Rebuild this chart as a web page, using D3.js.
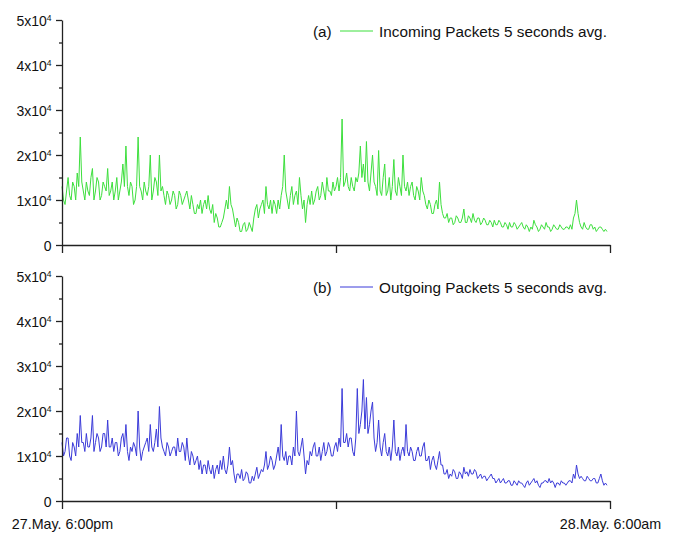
<!DOCTYPE html>
<html><head><meta charset="utf-8">
<script src="https://cdn.jsdelivr.net/npm/d3@7"></script>
<style>body{margin:0;background:#fff}svg{display:block}text{font-family:"Liberation Sans",Arial,sans-serif;fill:#111}</style>
</head><body>
<svg id="c" width="676" height="543"></svg>
<script>
// samples every 2 minutes from 27.May 6:00pm, values in thousands of packets (5 s avg)
const sampleMinutes = 2;
const incoming = [13,10,9,12,15,11,10,14,13,10,16,13,24,14,12,10,14,12,11,15,
17,10,12,15,14,10,11,14,13,12,17,11,12,14,10,12,15,10,12,14,
18,13,22,13,11,14,13,9,10,13,24,13,12,10,14,12,11,13,20,10,
12,15,14,11,20,12,13,11,9,12,11,9,10,12,11,8,9,12,11,9,
10,11,12,10,8,11,9,7,7,9,8,10,7,9,10,8,11,8,7,9,
5,7,6,4,4,5,6,8,10,8,13,9,8,6,4,6,5,3,3,4.5,
5,3,3.5,5,4,3,6,8,9,6,8,9,10,7,13,9,8,10,7,10,
9,7,10,8,11,13,20,12,10,8,11,13,9,11,12,9,15,11,8,10,
5,9,11,9,12,9,10,12,13,10,11,14,12,10,15,12,12,11,14,12,
13,15,12,15,28,13,14,16,13,12,15,13,12,15,14,16,22,15,18,14,
23,14,12,16,20,14,13,11,21,12,11,15,18,11,12,15,10,13,19,12,
11,15,13,11,20,13,12,14,11,13,14,11,10,13,12,10,15,12,11,9,
8,10,9,7,7,9,10,8,14,9,7,6,6,7,5,6,6,4.5,5,6.5,
6,5,5,6,8,5,5,6.5,6,5,7,5.5,5,6,6,4.5,5,6,5.5,4.5,
4.5,5.5,5,4,5.5,4.5,4.5,5.5,5,4,4,5,4.5,3.5,5,4,4,5,4.5,3.5,
4,4.5,5,4,3.5,4.5,4,3,4,3.5,5.5,4.5,4,3,3.5,4.5,4,3.5,5,4,
4,3,3.5,4.5,4,3.5,3.5,4.5,4,3.5,3.5,4,4,3.5,4.5,3.5,6,7,10,7,
5,4,3.5,5,4,3.5,3.5,4.5,4.5,3.5,4,3,3.5,4,4,3.5,3,3.5,3];
const outgoing = [13,10,11,14,14,10,9,13,12,10,15,12,19,13,13,11,15,12,12,14,
19,11,13,15,14,11,12,15,15,12,18,12,12,14,11,13,13,10,11,14,
15,12,17,11,9,12,11,13,12,10,20,12,9,11,12,13,14,11,17,12,
11,13,16,12,21,14,12,11,10,13,12,10,11,12,12,10,14,11,11,13,
12,9,14,10,8,11,10,8,9,10,7,9,6,8,8,6,9,7,6,8,
5,7,8,6,9,7,10,7,6,8,12,8,9,6,4,6,6,5,7,4.5,
5,6.5,6,4,4,5.5,4.5,6,7.5,5,6,7,6.5,8,11,7,8,10,9,7,
8,10,12,9,17,10,9,11,8,10,10,8,12,10,20,11,10,12,14,10,
6,9,8,11,10,12,13,10,10,12,9,11,13,10,11,13,12,10,10,12,
13,11,14,12,25,13,13,15,12,14,14,11,10,14,25,15,17,20,27,16,
23,15,17,20,22,14,11,13,18,12,10,13,15,11,10,12,9,12,18,11,
10,12,9,11,12,10,17,11,10,12,11,9,9,11,12,10,10,12,13,9,
9,10,7,9,10,8,7,9,11,8,8,6,6,7,5,6,5.5,7,6.5,5,
5,6.5,6,5,7.5,6,6.5,5.5,7,6,6,7,6.5,5,5.5,6,5,5.5,5.5,4.5,
5,5.5,6,5,5,4,4.5,5,4,4.5,5,4,4,4.5,4.5,3.5,3.5,4.5,4,3.5,
4.5,4,4,3.5,3,4,4.5,3.5,4,4.5,5,4,4.5,3.5,3,4,4,4.5,4.5,4,
5,4,4.5,4,3,4,4,3.5,4.5,4,4,3.5,4,4.5,4.5,4,6,5,8,6,
5,5.5,5,4.5,4.5,5.5,5,4.5,4.5,5,5,4,4,5,6,4.5,3.5,4,3.5];
const yTickValues = [0,10,20,30,40,50];
const yTickMantissa = ["0","1x10","2x10","3x10","4x10","5x10"];
const yMinorTicks = [5,15,25,35,45];
const xTickMinutes = [0,360,720];
const xTickLabels = ["27.May. 6:00pm","","28.May. 6:00am"];
const panels = [
  {key:"(a)", name:"Incoming Packets 5 seconds avg.", data:incoming, color:"#3ddf3d", top:20, bottom:245, labels:false},
  {key:"(b)", name:"Outgoing Packets 5 seconds avg.", data:outgoing, color:"#3b3bd9", top:276, bottom:501, labels:true}
];

const svg = d3.select("#c");
const x = d3.scaleLinear().domain([0,720]).range([62,610]);

panels.forEach(p => {
  const y = d3.scaleLinear().domain([0,50]).range([p.bottom,p.top]);
  const g = svg.append("g");
  const line = d3.line().x((d,i)=>x(i*sampleMinutes)).y(d=>y(d));
  g.append("path").datum(p.data).attr("d",line).attr("fill","none")
    .attr("stroke",p.color).attr("stroke-width",1).attr("stroke-linejoin","round");

  const ya = g.append("g").attr("transform","translate(62,0)")
    .call(d3.axisLeft(y).tickValues(yTickValues).tickSize(6).tickSizeOuter(0).tickFormat(""));
  g.append("g").attr("transform","translate(62,0)")
    .call(d3.axisLeft(y).tickValues(yMinorTicks).tickSize(3).tickSizeOuter(0).tickFormat(""))
    .select(".domain").remove();
  ya.selectAll(".tick").each(function(d,i){
    const t = d3.select(this).append("text").attr("x",-10.5).attr("y",0).attr("dy","0.36em")
      .attr("text-anchor","end").style("font-size","14px").attr("fill","#111");
    t.append("tspan").text(yTickMantissa[i]);
    if (d !== 0) t.append("tspan").attr("dy","-0.55em").style("font-size","8.5px").text("4");
  });
  const xa = g.append("g").attr("transform",`translate(0,${p.bottom})`)
    .call(d3.axisBottom(x).tickValues(xTickMinutes).tickSize(8).tickSizeOuter(0).tickFormat(""));
  if (p.labels) {
    xa.selectAll(".tick").append("text").attr("y",28).attr("text-anchor","middle")
      .style("font-size","14.3px").attr("fill","#111").text((d,i)=>xTickLabels[i]);
  }
  svg.selectAll(".domain, .tick line").attr("stroke","#222").attr("stroke-width",1.3);

  const ly = p.top + 11;
  g.append("text").attr("x",313).attr("y",ly).attr("dy","0.36em").style("font-size","15.3px").text(p.key);
  g.append("line").attr("x1",340).attr("x2",373).attr("y1",ly).attr("y2",ly)
    .attr("stroke",p.color).attr("stroke-width",1);
  g.append("text").attr("x",379).attr("y",ly).attr("dy","0.36em").style("font-size","15.3px").text(p.name);
});
</script>
</body></html>
